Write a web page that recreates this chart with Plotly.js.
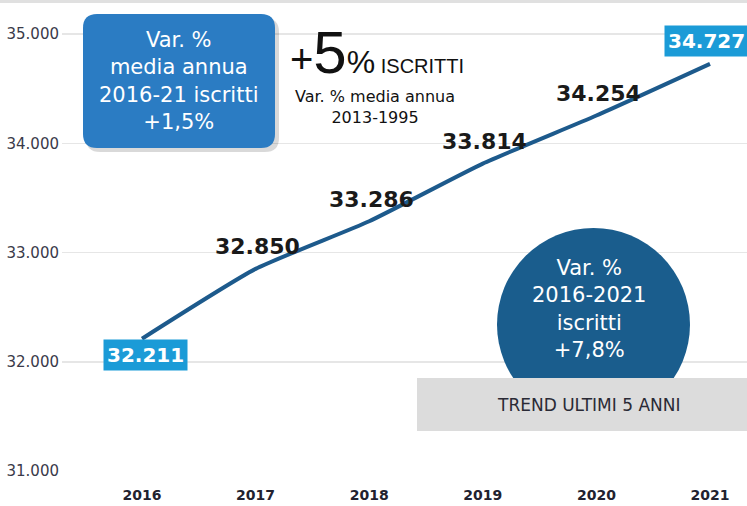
<!DOCTYPE html>
<html>
<head>
<meta charset="utf-8">
<script src="https://cdn.plot.ly/plotly-3.0.1.min.js"></script>
<style>html,body{margin:0;padding:0;background:#fff;}#chart{width:747px;height:506px;}</style>
</head>
<body>
<div id="chart"></div>
<script>
const years = [2016, 2017, 2018, 2019, 2020, 2021];
const iscritti = [32211, 32850, 33286, 33814, 34254, 34727];
const yTicks = [31000, 32000, 33000, 34000, 35000];

const W = 747, H = 506;
const M = {l: 62, r: 0, t: 18, b: 35};
const PW = W - M.l - M.r, PH = H - M.t - M.b;
const px = x => (x - M.l) / PW;
const py = y => (H - M.b - y) / PH;

function fmt(v) {
  return String(v).replace(/\B(?=(\d{3})+(?!\d))/g, '.');
}

const trace = {
  x: years, y: iscritti, type: 'scatter', mode: 'lines',
  line: {color: '#1d5a8c', width: 4, shape: 'spline', smoothing: 0.5},
  hoverinfo: 'skip', showlegend: false
};

const F = 'DejaVu Sans';
const annotations = [];
years.forEach((yr, i) => {
  const last = i === years.length - 1, first = i === 0;
  if (first || last) {
    annotations.push({
      x: yr, y: iscritti[i], xref: 'x', yref: 'y', text: fmt(iscritti[i]),
      xanchor: 'center', yanchor: 'middle',
      showarrow: false, bgcolor: '#1b9bd7', borderpad: 3,
      font: {family: F, size: 20, color: '#ffffff', weight: 'bold'},
      xshift: first ? 3 : -4, yshift: first ? -16 : 23
    });
  } else {
    annotations.push({
      x: yr, y: iscritti[i], xref: 'x', yref: 'y', text: fmt(iscritti[i]),
      xanchor: 'center', yanchor: 'middle',
      showarrow: false,
      font: {family: F, size: 22, color: '#1a1a1a', weight: 'bold'},
      xshift: 2, yshift: 22
    });
  }
});

function note(x, y, text, size, color, family) {
  annotations.push({
    xref: 'paper', yref: 'paper', x: px(x), y: py(y), showarrow: false,
    xanchor: 'center', yanchor: 'middle', align: 'center', text: text,
    font: {family: family || F, size: size, color: color}
  });
}

const boxLines = ['Var. %', 'media annua', '2016-21 iscritti', '+1,5%'];
note(179, 81, boxLines.join('<br>'), 21, '#ffffff');
note(377, 52,
  '<span style="font-size:40px">+</span><span style="font-size:60px">5</span><span style="font-size:32px">%</span> <span style="font-size:20px">ISCRITTI</span>',
  20, '#111111', 'Liberation Sans');
note(375, 107, 'Var. % media annua<br>2013-1995', 16, '#111111');
note(589, 309, 'Var. %<br>2016-2021<br>iscritti<br>+7,8%', 21, '#ffffff');
note(589, 405, 'TREND ULTIMI 5 ANNI', 17, '#2a2a35');

function roundRect(x0, y0, x1, y1, r) {
  const X0 = px(x0), X1 = px(x1), Y0 = py(y0), Y1 = py(y1);
  const rx = r / PW, ry = r / PH;
  return `M ${X0 + rx},${Y0} L ${X1 - rx},${Y0} Q ${X1},${Y0} ${X1},${Y0 - ry} ` +
    `L ${X1},${Y1 + ry} Q ${X1},${Y1} ${X1 - rx},${Y1} L ${X0 + rx},${Y1} ` +
    `Q ${X0},${Y1} ${X0},${Y1 + ry} L ${X0},${Y0 - ry} Q ${X0},${Y0} ${X0 + rx},${Y0} Z`;
}

const shapes = [
  {type: 'rect', xref: 'paper', yref: 'paper', x0: px(0), x1: px(747), y0: py(0), y1: py(3),
   fillcolor: '#e0e0e0', line: {width: 0}, layer: 'below'},
  {type: 'path', xref: 'paper', yref: 'paper', path: roundRect(86, 18, 279, 152, 14),
   fillcolor: 'rgba(0,0,0,0.15)', line: {width: 0}, layer: 'above'},
  {type: 'path', xref: 'paper', yref: 'paper', path: roundRect(83, 14, 275, 148, 14),
   fillcolor: '#2b7cc3', line: {width: 0}, layer: 'above'},
  {type: 'circle', xref: 'paper', yref: 'paper', x0: px(497), x1: px(690), y0: py(228), y1: py(421),
   fillcolor: '#1a5d8d', line: {width: 0}, layer: 'above'},
  {type: 'rect', xref: 'paper', yref: 'paper', x0: px(417), x1: px(747), y0: py(378), y1: py(431),
   fillcolor: '#dcdcdc', line: {width: 0}, layer: 'above'}
];

const layout = {
  width: W, height: H, margin: M,
  paper_bgcolor: '#ffffff', plot_bgcolor: '#ffffff',
  showlegend: false,
  xaxis: {
    range: [2016 - 80 / 113.6, 2021 + 37 / 113.6], tickvals: years, ticktext: years.map(String),
    showgrid: false, zeroline: false, showline: false, ticks: '',
    ticklabelstandoff: 14,
    tickfont: {family: F, size: 14, color: '#22222f', weight: 'bold'}
  },
  yaxis: {
    range: [31000, 35000 + 16 / 0.10925], tickvals: yTicks, ticktext: yTicks.map(fmt),
    showgrid: true, gridcolor: '#e6e6e6', gridwidth: 1.5, zeroline: false, showline: false, ticks: '',
    ticklabelstandoff: 2,
    tickfont: {family: F, size: 15, color: '#3a3a4a'}
  },
  shapes: shapes,
  annotations: annotations
};

Plotly.newPlot('chart', [trace], layout, {displayModeBar: false, staticPlot: true});
</script>
</body>
</html>
